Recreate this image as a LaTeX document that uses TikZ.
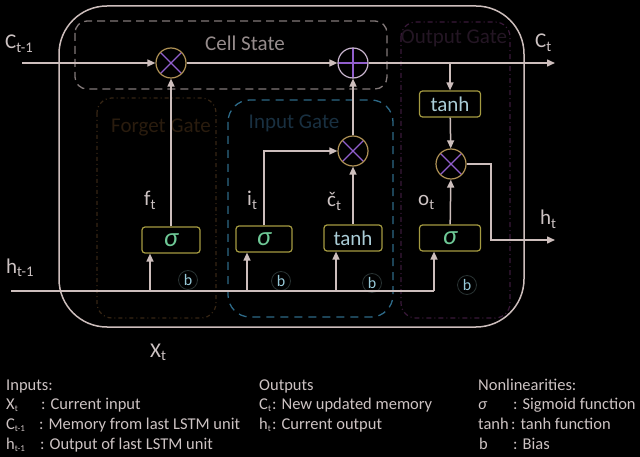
\documentclass[tikz,border=0pt]{standalone}
\usepackage{fontspec}
\setmainfont{Carlito}
\usetikzlibrary{arrows.meta}
\definecolor{ln}{RGB}{205,190,188}
\definecolor{txt}{RGB}{205,195,195}
\definecolor{boxc}{RGB}{165,155,65}
\definecolor{tanhc}{RGB}{170,205,215}
\definecolor{sigc}{RGB}{110,200,150}
\definecolor{crossc}{RGB}{145,95,205}
\definecolor{mulc}{RGB}{175,145,85}
\definecolor{addc}{RGB}{200,180,205}
\definecolor{cellc}{RGB}{130,120,120}
\definecolor{celltxt}{RGB}{150,140,140}
\definecolor{forgc}{RGB}{55,38,20}
\definecolor{forgtxt}{RGB}{42,28,14}
\definecolor{inpc}{RGB}{45,105,135}
\definecolor{inptxt}{RGB}{25,48,65}
\definecolor{outc}{RGB}{58,25,58}
\definecolor{outtxt}{RGB}{36,22,36}
\definecolor{bc}{RGB}{40,50,50}
\definecolor{btxt}{RGB}{150,200,215}
\newcommand{\sbt}[1]{\textsubscript{#1}}
\newcommand{\lsb}[1]{\raisebox{-0.3ex}{\fontsize{9}{9}\selectfont #1}}
\begin{document}
\begin{tikzpicture}[x=1pt,y=-1pt,
  every node/.style={text=txt, inner sep=0pt},
  lbl/.style={font=\fontsize{21}{21}\selectfont, anchor=base west},
  leg/.style={font=\fontsize{16.5}{18}\selectfont, anchor=base west},
  ln/.style={draw=ln, line width=1.5pt},
  arr/.style={ln, -{Triangle[length=8pt,width=7pt]}},
  gatebox/.style={draw=boxc, line width=1.2pt, fill=black, rounded corners=3pt, minimum width=58pt, minimum height=26pt},
  sig/.style={gatebox, text=sigc, font=\fontsize{27}{27}\selectfont\itshape},
  tanhbox/.style={gatebox, text=tanhc, font=\fontsize{21}{21}\selectfont},
  mul/.style={circle, draw=mulc, line width=1.2pt, fill=black, minimum size=30pt,
    path picture={\draw[crossc, line width=1.2pt]
      (path picture bounding box.north west) -- (path picture bounding box.south east)
      (path picture bounding box.north east) -- (path picture bounding box.south west);}},
  add/.style={circle, draw=addc, line width=1.2pt, fill=black, minimum size=30pt,
    path picture={\draw[crossc, line width=1.2pt]
      (path picture bounding box.north) -- (path picture bounding box.south)
      (path picture bounding box.west) -- (path picture bounding box.east);}},
  bcirc/.style={circle, draw=bc, line width=0.8pt, minimum size=19pt, text=btxt, font=\fontsize{16}{16}\selectfont},
  gatelbl/.style={font=\fontsize{21}{21}\selectfont}
]
\fill[black] (0,0) rectangle (640,457);
\useasboundingbox (0,0) rectangle (640,457);

% dashed gate regions
\draw[cellc, line width=1.3pt, dash pattern=on 8pt off 5pt, rounded corners=12pt] (75,21) rectangle (387,89);
\draw[forgc, line width=1.2pt, dash pattern=on 4pt off 3pt on 1pt off 3pt, rounded corners=15pt] (97,98) rectangle (216,318);
\draw[inpc, line width=1.3pt, dash pattern=on 8pt off 6pt, rounded corners=22pt] (228,100) rectangle (393,317);
\draw[outc, line width=1.2pt, dash pattern=on 5pt off 3pt on 1pt off 3pt, rounded corners=15pt] (401,22) rectangle (510,318);

\node[gatelbl, text=celltxt] (lcell) at (245,43) {Cell State};
\node[gatelbl, text=forgtxt] (lforg) at (161,127) {Forget Gate};
\node[gatelbl, text=inptxt] (linp) at (294,123) {Input Gate};
\node[gatelbl, text=outtxt] (lout) at (454,38) {Output Gate};

% outer unit
\draw[ln, rounded corners=48pt] (59,6) rectangle (524,327);

% coordinates
\coordinate (cin) at (22,63);
\coordinate (cout) at (555,63);
\coordinate (br) at (450,63);
\coordinate (hin) at (11,291);
\coordinate (hend) at (434,291);
\coordinate (fin) at (150,291);
\coordinate (iin) at (247,291);
\coordinate (ctin) at (336,291);
\coordinate (hc) at (491,240);
\coordinate (hout) at (555,240);

% nodes
\node[mul] (m1) at (171,63) {};
\node[add] (p1) at (353,63) {};
\node[mul] (m2) at (353,151) {};
\node[mul] (m3) at (451,164) {};
\node[tanhbox, minimum width=61pt] (tO) at (450,104) {tanh};
\node[sig] (sF) at (171,240) {σ};
\node[sig, minimum width=56pt] (sI) at (264,239) {σ};
\node[tanhbox] (tI) at (353,238) {tanh};
\node[sig, minimum width=61pt] (sO) at (450,238) {σ};

\node[bcirc] (bF) at (188,280) {b};
\node[bcirc] (bI) at (281,281) {b};
\node[bcirc] (bC) at (372,283) {b};
\node[bcirc] (bO) at (467,285) {b};

% connectors
\draw[arr] (cin) -- (m1);
\draw[arr] (m1) -- (p1);
\draw[arr] (p1) -- (cout);
\draw[arr] (br) -- (tO);
\draw[arr] (tO) -- (m3);
\draw[arr] (sO) -- (m3);
\draw[arr] (m3) -| (hc) -- (hout);
\draw[ln] (hin) -- (hend);
\draw[arr] (hend) -- (hend |- sO.south);
\draw[arr] (fin) -- (fin |- sF.south);
\draw[arr] (iin) -- (iin |- sI.south);
\draw[arr] (ctin) -- (ctin |- tI.south);
\draw[arr] (sF) -- (m1);
\draw[arr] (sI) |- (m2);
\draw[arr] (tI) -- (m2);
\draw[arr] (m2) -- (p1);

% labels
\node[lbl] (lc1) at (5,49) {C\sbt{t-1}};
\node[lbl] (lct) at (535,48) {C\sbt{t}};
\node[lbl] (lft) at (144,206) {f\sbt{t}};
\node[lbl] (lit) at (247,206) {i\sbt{t}};
\node[lbl] (lcc) at (327,207) {č\sbt{t}};
\node[lbl] (lot) at (418,206) {o\sbt{t}};
\node[lbl] (lht) at (540,225) {h\sbt{t}};
\node[lbl] (lh1) at (6,273) {h\sbt{t-1}};
\node[lbl] (lxt) at (150,357) {X\sbt{t}};

% legend
\node[leg] at (6,390) {Inputs:};
\node[leg] at (6,409) {X\lsb{t}};
\node[leg] at (41,409) {: Current input};
\node[leg] at (6,429) {C\lsb{t-1}};
\node[leg] at (39,429) {: Memory from last LSTM unit};
\node[leg] at (6,449) {h\lsb{t-1}};
\node[leg] at (40,449) {: Output of last LSTM unit};

\node[leg] at (259,390) {Outputs};
\node[leg] at (259,409) {C\lsb{t}};
\node[leg] at (272,409) {: New updated memory};
\node[leg] at (259,429) {h\lsb{t}};
\node[leg] at (272,429) {: Current output};

\node[leg] at (478,390) {Nonlinearities:};
\node[leg] at (478,409) {\itshape σ};
\node[leg] at (513,409) {: Sigmoid function};
\node[leg] at (478,429) {tanh};
\node[leg] at (511,429) {: tanh function};
\node[leg] at (479,449) {b};
\node[leg] at (513,449) {: Bias};
\end{tikzpicture}
\end{document}
